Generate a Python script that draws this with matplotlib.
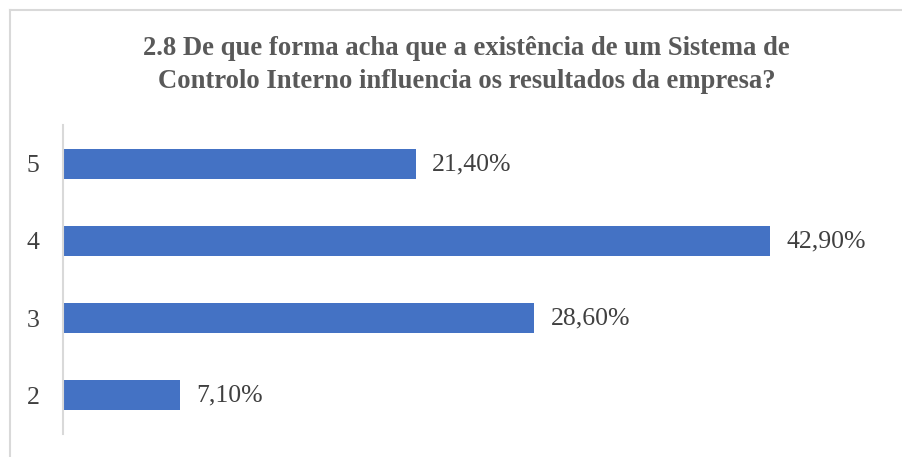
import matplotlib.pyplot as plt
from matplotlib.lines import Line2D

categorias = ['2', '3', '4', '5']
valores = [7.1, 28.6, 42.9, 21.4]
rotulos = ['7,10%', '28,60%', '42,90%', '21,40%']
titulo = '2.8 De que forma acha que a existência de um Sistema de\nControlo Interno influencia os resultados da empresa?'

plt.rcParams['font.family'] = ['Liberation Serif', 'DejaVu Serif']

fig = plt.figure(figsize=(9.02, 4.57), dpi=100)
ax = fig.add_axes([0.0698, 0.0514, 0.9135, 0.674])

pos = [int(c) for c in categorias]
ax.barh(pos, valores, height=0.4, color='#4472C4')
for p, v, r in zip(pos, valores, rotulos):
    ax.text(v + 1.0, p, r, va='center', ha='left', fontsize=18.5, color='#404040')

ax.set_xlim(0, 50)
ax.set_ylim(1.5, 5.5)
ax.set_yticks(pos)
ax.set_yticklabels(categorias, fontsize=18.5, color='#404040')
ax.tick_params(axis='y', length=0, pad=17)
ax.set_xticks([])
for s in ['top', 'right', 'bottom']:
    ax.spines[s].set_visible(False)
ax.spines['left'].set_color('#D9D9D9')
ax.spines['left'].set_linewidth(1.5)

fig.text(0.517, 0.858, titulo, ha='center', va='center', fontsize=19.2,
         fontweight='bold', color='#595959', linespacing=1.4)

# moldura do gráfico
fig.add_artist(Line2D([10/902, 1], [1 - 10/457, 1 - 10/457], color='#D9D9D9', lw=1.5))
fig.add_artist(Line2D([10/902, 10/902], [0, 1 - 10/457], color='#D9D9D9', lw=1.5))

fig.savefig('out.png', dpi=100)
